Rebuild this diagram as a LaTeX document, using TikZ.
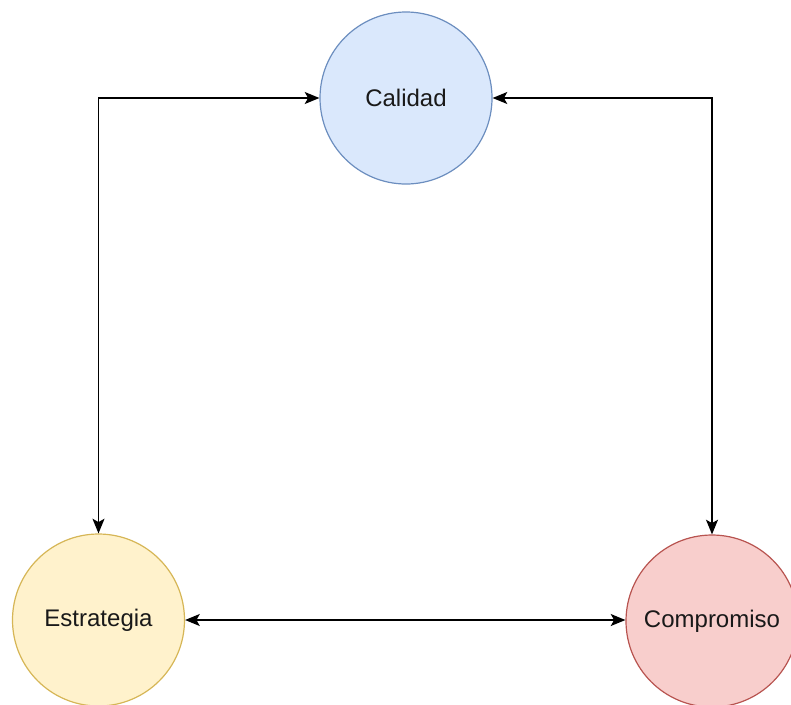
\documentclass[tikz,border=0pt]{standalone}
\usepackage{fontspec}
\setmainfont{Liberation Sans}
\usetikzlibrary{arrows.meta}
\definecolor{azul}{HTML}{DAE8FC}
\definecolor{azulborde}{HTML}{6C8EBF}
\definecolor{amarillo}{HTML}{FFF2CC}
\definecolor{amarilloborde}{HTML}{D6B656}
\definecolor{rojo}{HTML}{F8CECC}
\definecolor{rojoborde}{HTML}{B85450}
\begin{document}
\begin{tikzpicture}[x=0.75pt,y=-0.75pt,
    bola/.style={circle,draw,line width=0.9pt,minimum size=129pt,inner sep=0pt,
      text=black!90,font=\fontsize{18}{20}\selectfont},
    flecha/.style={{Stealth[length=11pt,width=9pt,inset=2.5pt]}-{Stealth[length=11pt,width=9pt,inset=2.5pt]},line width=1.1pt}]
    \useasboundingbox (0,0) rectangle (791,704);
    \clip (0,0) rectangle (791,704);
    \node[bola,fill=azul,draw=azulborde] (calidad) at (406,98) {Calidad};
    \node[bola,fill=amarillo,draw=amarilloborde] (estrategia) at (98.5,620) {Estrategia};
    \node[bola,fill=rojo,draw=rojoborde] (compromiso) at (712,621) {Compromiso};
    \draw[flecha] (calidad.west) -| (estrategia.north);
    \draw[flecha] (calidad.east) -| (compromiso.north);
    \draw[flecha] (estrategia.east) -- (estrategia.east -| compromiso.west);
\end{tikzpicture}
\end{document}
